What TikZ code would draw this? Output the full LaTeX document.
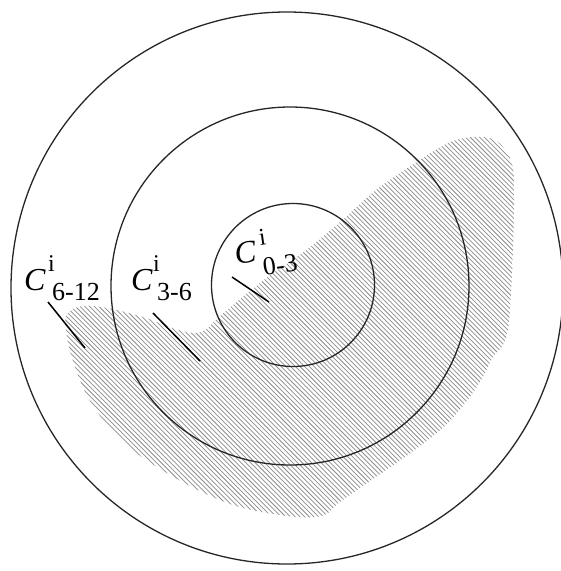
\documentclass[tikz,border=0pt]{standalone}
\usepackage{fontspec}
\setmainfont{Liberation Serif}
\begin{document}
\begin{tikzpicture}[x=1pt,y=-1pt,
  ring/.style={draw=black!85,line width=1.3pt},
  hatch/.style={draw=black!45,line width=0.75pt},
  leader/.style={draw=black,line width=1.5pt},
  bigc/.style={anchor=base west,inner sep=0pt,font=\fontsize{32}{32}\selectfont\itshape},
  supi/.style={anchor=base west,inner sep=0pt,font=\fontsize{24}{24}\selectfont},
  subs/.style={anchor=base west,inner sep=0pt,font=\fontsize{26}{26}\selectfont}]
\useasboundingbox (0,0) rectangle (561,571);
% hatched region
\begin{scope}
\clip plot[smooth cycle,tension=0.55] coordinates {
 (67,314) (82,306) (107,308) (143,317) (172,328) (193,333) (205,330) (216,320)
 (233,305) (269,276) (305,251) (340,222) (376,190) (412,165) (448,143) (473,137)
 (495,140) (509,156) (514,180) (513,250) (509,322) (503,345) (493,357) (477,387)
 (448,423) (412,452) (376,477) (340,502) (322,516) (287,516) (233,505) (179,480)
 (125,444) (90,401) (72,358) (66,330)};
\foreach \k in {-560,-555.3,...,560} {
  \draw[hatch] (\k,0) -- ++(600,600);
}
\end{scope}
% rings
\node[ring,circle,minimum size=552pt,inner sep=0pt] (outer) at (287,288) {};
\node[ring,circle,minimum size=358pt,inner sep=0pt] (middle) at (290,286) {};
\node[ring,circle,minimum size=163pt,inner sep=0pt] (inner) at (293,285) {};
% labels
\node[bigc] (c1) at (24,290) {C};
\node[supi] (i1) at (48,271) {i};
\node[subs] (s1) at (52,300) {6-12};
\node[bigc] (c2) at (131,290) {C};
\node[supi] (i2) at (153,271) {i};
\node[subs] (s2) at (157,300) {3-6};
\node[bigc,rotate=8] (c3) at (236,265) {C};
\node[supi,rotate=8] (i3) at (260,246) {i};
\node[subs,rotate=8] (s3) at (264,276) {0-3};
% leader lines
\coordinate (a1) at (48,302); \coordinate (b1) at (85,348);
\coordinate (a2) at (153,313); \coordinate (b2) at (200,361);
\coordinate (a3) at (232,277); \coordinate (b3) at (269,302);
\draw[leader] (a1) -- (b1);
\draw[leader] (a2) -- (b2);
\draw[leader] (a3) -- (b3);
\end{tikzpicture}
\end{document}
